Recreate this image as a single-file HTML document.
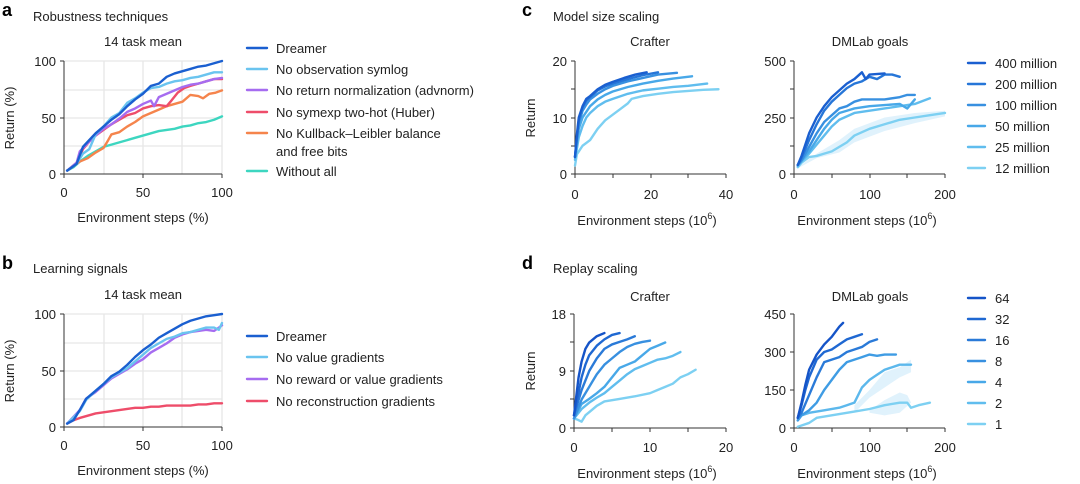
<!DOCTYPE html>
<html><head><meta charset="utf-8"><style>
html,body{margin:0;padding:0;background:#fff}
svg{display:block;font-family:"Liberation Sans",Arial,sans-serif}
text{fill:#222;font-size:13px}
.l{fill:none;stroke-width:2.4;stroke-linejoin:round;stroke-linecap:round}
.ax{stroke:#333;stroke-width:1;fill:none}
.g{stroke:#e6e6e6;stroke-width:1.3}
.b{font-weight:bold;font-size:18px;fill:#000}
</style></head><body>
<svg width="1080" height="484" viewBox="0 0 1080 484" xmlns="http://www.w3.org/2000/svg">
<!-- Panel a -->
<text x="2" y="16" class="b">a</text>
<text x="33" y="21">Robustness techniques</text>
<text x="143" y="46" text-anchor="middle">14 task mean</text>
<g class="g"><line x1="104" y1="61" x2="104" y2="174"/><line x1="143" y1="61" x2="143" y2="174"/><line x1="182" y1="61" x2="182" y2="174"/><line x1="222" y1="61" x2="222" y2="174"/>
<line x1="64" y1="61" x2="222" y2="61"/><line x1="64" y1="90" x2="222" y2="90"/><line x1="64" y1="118" x2="222" y2="118"/><line x1="64" y1="146" x2="222" y2="146"/></g>
<path class="ax" d="M64,61V174H222M60,61H64M60,118H64M60,174H64M64,174v4M143,174v4M222,174v4"/>
<text x="56" y="66" text-anchor="end">100</text><text x="56" y="123" text-anchor="end">50</text><text x="56" y="179" text-anchor="end">0</text>
<text x="64" y="197" text-anchor="middle">0</text><text x="143" y="197" text-anchor="middle">50</text><text x="222" y="197" text-anchor="middle">100</text>
<text x="143" y="222" text-anchor="middle">Environment steps (%)</text>
<text transform="translate(14,118) rotate(-90)" text-anchor="middle">Return (%)</text>
<g transform="translate(64,174) scale(1.58,-1.13)">
<polyline class="l" vector-effect="non-scaling-stroke" stroke="#3dd6c0" points="2,3 6,6 10,11 15,16 20,20 25,24 30,26 35,28 40,30 45,32 50,34 55,36 60,38 65,39 70,40 75,42 80,43 85,45 90,46 95,48 100,51"/>
<polyline class="l" vector-effect="non-scaling-stroke" stroke="#f5844c" points="2,3 6,7 10,11 15,14 20,19 25,23 28,30 30,35 35,37 40,42 45,46 50,51 55,54 60,57 65,60 70,62 75,64 80,70 85,69 88,67 92,71 96,72 100,74"/>
<polyline class="l" vector-effect="non-scaling-stroke" stroke="#ee4d6a" points="2,3 8,10 12,22 18,32 24,38 30,44 35,48 40,52 45,54 50,58 55,60 60,61 65,60 68,65 72,72 76,76 80,78 85,80 90,82 95,84 100,84"/>
<polyline class="l" vector-effect="non-scaling-stroke" stroke="#a66cf0" points="2,3 8,10 10,20 14,26 20,34 25,40 30,44 35,49 40,55 45,58 50,62 55,65 57,60 60,68 65,71 70,74 75,77 80,79 85,80 90,82 95,84 100,85"/>
<polyline class="l" vector-effect="non-scaling-stroke" stroke="#6ac4ef" points="2,3 8,9 12,18 16,22 20,35 25,42 30,50 35,54 40,63 45,67 50,72 55,76 60,77 65,80 70,82 75,83 80,85 85,86 90,88 95,90 100,90"/>
<polyline class="l" vector-effect="non-scaling-stroke" stroke="#1a5fd0" points="2,3 5,6 8,9 12,24 16,30 20,36 25,42 30,48 35,53 40,60 45,66 50,71 55,78 60,80 65,86 70,89 75,91 80,93 85,95 90,96 95,98 100,100"/>
</g>
<g class="l" stroke-width="3">
<line x1="247" y1="48" x2="267" y2="48" stroke="#1a5fd0"/><line x1="247" y1="69" x2="267" y2="69" stroke="#6ac4ef"/><line x1="247" y1="90" x2="267" y2="90" stroke="#a66cf0"/><line x1="247" y1="112" x2="267" y2="112" stroke="#ee4d6a"/><line x1="247" y1="133" x2="267" y2="133" stroke="#f5844c"/><line x1="247" y1="171" x2="267" y2="171" stroke="#3dd6c0"/></g>
<text x="276" y="53">Dreamer</text><text x="276" y="74">No observation symlog</text><text x="276" y="95">No return normalization (advnorm)</text><text x="276" y="117">No symexp two-hot (Huber)</text><text x="276" y="138">No Kullback–Leibler balance</text><text x="276" y="156">and free bits</text><text x="276" y="176">Without all</text>

<!-- Panel b -->
<text x="2" y="269" class="b">b</text>
<text x="33" y="273">Learning signals</text>
<text x="143" y="299" text-anchor="middle">14 task mean</text>
<g class="g"><line x1="104" y1="314" x2="104" y2="427"/><line x1="143" y1="314" x2="143" y2="427"/><line x1="182" y1="314" x2="182" y2="427"/><line x1="222" y1="314" x2="222" y2="427"/>
<line x1="64" y1="314" x2="222" y2="314"/><line x1="64" y1="343" x2="222" y2="343"/><line x1="64" y1="371" x2="222" y2="371"/><line x1="64" y1="399" x2="222" y2="399"/></g>
<path class="ax" d="M64,314V427H222M60,314H64M60,371H64M60,427H64M64,427v4M143,427v4M222,427v4"/>
<text x="56" y="319" text-anchor="end">100</text><text x="56" y="376" text-anchor="end">50</text><text x="56" y="432" text-anchor="end">0</text>
<text x="64" y="450" text-anchor="middle">0</text><text x="143" y="450" text-anchor="middle">50</text><text x="222" y="450" text-anchor="middle">100</text>
<text x="143" y="475" text-anchor="middle">Environment steps (%)</text>
<text transform="translate(14,371) rotate(-90)" text-anchor="middle">Return (%)</text>
<g transform="translate(64,427) scale(1.58,-1.13)">
<polyline class="l" vector-effect="non-scaling-stroke" stroke="#ee4d6a" points="2,3 6,6 10,8 15,10 20,12 25,13 30,14 35,15 40,16 45,17 50,17 55,18 60,18 65,19 70,19 75,19 80,19 85,20 90,20 95,21 100,21"/>
<polyline class="l" vector-effect="non-scaling-stroke" stroke="#a66cf0" points="2,3 10,15 14,25 20,31 25,37 30,43 35,47 40,51 45,56 50,60 55,66 60,70 65,74 70,79 75,82 80,84 85,85 90,86 95,85 98,88 100,90"/>
<polyline class="l" vector-effect="non-scaling-stroke" stroke="#6ac4ef" points="2,3 10,14 14,24 20,32 25,38 30,44 35,48 40,52 45,58 50,64 55,70 60,74 65,78 70,80 75,83 80,84 85,86 90,88 95,88 98,86 100,92"/>
<polyline class="l" vector-effect="non-scaling-stroke" stroke="#1a5fd0" points="2,3 6,6 10,15 14,25 20,32 25,38 30,45 35,49 40,55 45,62 50,68 55,73 60,79 65,83 70,87 75,91 80,94 85,96 90,98 95,99 100,100"/>
</g>
<g class="l" stroke-width="3">
<line x1="247" y1="336" x2="267" y2="336" stroke="#1a5fd0"/><line x1="247" y1="357" x2="267" y2="357" stroke="#6ac4ef"/><line x1="247" y1="379" x2="267" y2="379" stroke="#a66cf0"/><line x1="247" y1="401" x2="267" y2="401" stroke="#ee4d6a"/></g>
<text x="276" y="341">Dreamer</text><text x="276" y="362">No value gradients</text><text x="276" y="384">No reward or value gradients</text><text x="276" y="406">No reconstruction gradients</text>

<!-- Panel c -->
<text x="522" y="16" class="b">c</text>
<text x="553" y="21">Model size scaling</text>
<text x="650" y="46" text-anchor="middle">Crafter</text>
<text x="870" y="46" text-anchor="middle">DMLab goals</text>
<path class="ax" d="M575,61V174H726M571,61H575M571,89H575M571,118H575M571,146H575M571,174H575M575,174v4M613,174v4M651,174v4M688,174v4M726,174v4"/>
<text x="567" y="66" text-anchor="end">20</text><text x="567" y="123" text-anchor="end">10</text><text x="567" y="179" text-anchor="end">0</text>
<text x="575" y="199" text-anchor="middle">0</text><text x="651" y="199" text-anchor="middle">20</text><text x="726" y="199" text-anchor="middle">40</text>
<text x="647" y="225" text-anchor="middle">Environment steps (10<tspan dy="-6" font-size="9">6</tspan><tspan dy="6">)</tspan></text>
<text transform="translate(535,118) rotate(-90)" text-anchor="middle">Return</text>
<g transform="translate(575,174) scale(3.775,-5.65)">
<polyline class="l" vector-effect="non-scaling-stroke" stroke="#7dd0f2" points="0,1.5 0.5,3.5 1,4 2,5 4,6 6,8 8,9.5 10,10.5 12,11.5 14,12.5 15,13.3 18,13.8 22,14.2 26,14.5 30,14.7 34,14.9 38,15"/>
<polyline class="l" vector-effect="non-scaling-stroke" stroke="#60bdee" points="0,2.5 0.5,4.5 1,6.5 2,8.5 3,10 4,10.8 6,12 8,12.8 10,13.3 14,14.2 18,14.8 22,15.1 26,15.4 30,15.6 35,16"/>
<polyline class="l" vector-effect="non-scaling-stroke" stroke="#48a8e8" points="0,3 0.5,5.5 1,8 2,10 3,11 4,12 6,13.2 8,14 10,14.6 14,15.4 18,16 22,16.5 26,16.9 31,17.3"/>
<polyline class="l" vector-effect="non-scaling-stroke" stroke="#3890e0" points="0,3 0.5,6 1,9 2,11.2 3,12.3 4,13.2 6,14.2 8,15 10,15.6 14,16.4 18,17 22,17.6 27,17.9"/>
<polyline class="l" vector-effect="non-scaling-stroke" stroke="#2676d8" points="0,3 0.5,6.5 1,9.5 2,11.8 3,13 4,13.6 6,14.8 8,15.5 10,16 14,16.8 18,17.5 22,18"/>
<polyline class="l" vector-effect="non-scaling-stroke" stroke="#1a5fd0" points="0,3 0.5,7 1,10 2,12 3,13.3 4,13.8 6,15 8,15.8 10,16.3 13,17 16,17.6 19,18"/>
</g>
<path class="ax" d="M794,61V174H945M790,61H794M790,89H794M790,118H794M790,146H794M790,174H794M794,174v4M832,174v4M870,174v4M907,174v4M945,174v4"/>
<text x="786" y="66" text-anchor="end">500</text><text x="786" y="123" text-anchor="end">250</text><text x="786" y="179" text-anchor="end">0</text>
<text x="794" y="199" text-anchor="middle">0</text><text x="870" y="199" text-anchor="middle">100</text><text x="945" y="199" text-anchor="middle">200</text>
<text x="867" y="225" text-anchor="middle">Environment steps (10<tspan dy="-6" font-size="9">6</tspan><tspan dy="6">)</tspan></text>
<g transform="translate(794,174) scale(0.755,-0.226)">
<polygon fill="#d8effb" opacity="0.8" points="5,30 30,90 60,150 80,200 120,250 160,270 200,280 200,255 160,225 120,190 80,140 60,95 30,70 5,25"/>
<polyline class="l" vector-effect="non-scaling-stroke" stroke="#7dd0f2" points="5,30 10,50 20,75 30,80 40,90 50,100 60,120 70,140 80,170 100,200 120,220 140,240 160,250 180,260 200,270"/>
<polyline class="l" vector-effect="non-scaling-stroke" stroke="#60bdee" points="5,35 10,55 20,90 30,130 40,170 50,210 60,240 80,270 100,280 120,290 140,300 160,310 180,335"/>
<polyline class="l" vector-effect="non-scaling-stroke" stroke="#48a8e8" points="5,40 10,60 20,100 30,150 40,200 50,240 60,270 70,280 80,290 100,300 120,305 140,310 150,290 160,330"/>
<polyline class="l" vector-effect="non-scaling-stroke" stroke="#3890e0" points="5,40 10,60 20,120 30,180 40,230 50,260 60,290 70,300 80,320 90,330 100,330 120,330 140,340 150,350 160,350"/>
<polyline class="l" vector-effect="non-scaling-stroke" stroke="#2676d8" points="5,40 10,70 20,150 30,220 40,280 50,320 60,350 70,380 80,400 90,410 100,430 110,420 120,440 130,440 140,430"/>
<polyline class="l" vector-effect="non-scaling-stroke" stroke="#1a5fd0" points="5,40 10,80 20,180 30,250 40,300 50,340 60,370 70,400 80,420 90,450 95,420 100,440 120,445"/>
</g>
<g class="l" stroke-width="3">
<line x1="968" y1="63" x2="985" y2="63" stroke="#1a5fd0"/><line x1="968" y1="84" x2="985" y2="84" stroke="#2676d8"/><line x1="968" y1="105" x2="985" y2="105" stroke="#3890e0"/><line x1="968" y1="126" x2="985" y2="126" stroke="#48a8e8"/><line x1="968" y1="147" x2="985" y2="147" stroke="#60bdee"/><line x1="968" y1="168" x2="985" y2="168" stroke="#7dd0f2"/></g>
<text x="995" y="68">400 million</text><text x="995" y="89">200 million</text><text x="995" y="110">100 million</text><text x="995" y="131">50 million</text><text x="995" y="152">25 million</text><text x="995" y="173">12 million</text>

<!-- Panel d -->
<text x="522" y="269" class="b">d</text>
<text x="553" y="273">Replay scaling</text>
<text x="650" y="301" text-anchor="middle">Crafter</text>
<text x="870" y="301" text-anchor="middle">DMLab goals</text>
<path class="ax" d="M574,314V428H726M570,314H574M570,342H574M570,371H574M570,399H574M570,428H574M574,428v4M612,428v4M650,428v4M688,428v4M726,428v4"/>
<text x="566" y="319" text-anchor="end">18</text><text x="566" y="376" text-anchor="end">9</text><text x="566" y="433" text-anchor="end">0</text>
<text x="574" y="452" text-anchor="middle">0</text><text x="650" y="452" text-anchor="middle">10</text><text x="726" y="452" text-anchor="middle">20</text>
<text x="647" y="478" text-anchor="middle">Environment steps (10<tspan dy="-6" font-size="9">6</tspan><tspan dy="6">)</tspan></text>
<text transform="translate(535,371) rotate(-90)" text-anchor="middle">Return</text>
<g transform="translate(574,428) scale(7.6,-6.33)">
<polyline class="l" vector-effect="non-scaling-stroke" stroke="#7dd0f2" points="0,1.5 0.5,1.3 1,1 1.5,2 2,2.5 3,3.5 4,4.2 6,4.6 8,5 10,5.5 11,6 12,6.5 13,7 14,8 15,8.5 16,9.2"/>
<polyline class="l" vector-effect="non-scaling-stroke" stroke="#60bdee" points="0,1.5 1,3 2,4 3,4.8 4,5.5 5,6.5 6,7.5 7,8.5 8,9.3 9,9.8 10,10.3 11,10.8 12,11 13,11.4 14,12"/>
<polyline class="l" vector-effect="non-scaling-stroke" stroke="#48a8e8" points="0,1.5 1,3.8 2,4.6 3,5.5 4,6.5 5,8 6,9.5 7,10 8,10.5 9,11.5 10,12.5 11,13 12,13.5"/>
<polyline class="l" vector-effect="non-scaling-stroke" stroke="#3890e0" points="0,1.5 1,4.5 2,6.5 3,8.5 4,10 5,11 6,12 7,12.8 8,13.3 9,13.6 10,13.8"/>
<polyline class="l" vector-effect="non-scaling-stroke" stroke="#2a7ad8" points="0,2 0.5,4 1,6 2,9 3,11 4,12.5 5,13.2 6,13.6 7,14 8,14.5"/>
<polyline class="l" vector-effect="non-scaling-stroke" stroke="#1f68d2" points="0,2 0.5,5 1,8 1.5,10 2,11.5 3,13 4,14 5,14.7 6,15"/>
<polyline class="l" vector-effect="non-scaling-stroke" stroke="#1554c8" points="0,2 0.3,5 0.6,8 1,10.5 1.5,12.5 2,13.5 3,14.5 4,15"/>
</g>
<path class="ax" d="M794,314V428H945M790,314H794M790,352H794M790,390H794M790,428H794M794,428v4M832,428v4M870,428v4M907,428v4M945,428v4"/>
<text x="786" y="319" text-anchor="end">450</text><text x="786" y="357" text-anchor="end">300</text><text x="786" y="395" text-anchor="end">150</text><text x="786" y="433" text-anchor="end">0</text>
<text x="794" y="452" text-anchor="middle">0</text><text x="870" y="452" text-anchor="middle">100</text><text x="945" y="452" text-anchor="middle">200</text>
<text x="867" y="478" text-anchor="middle">Environment steps (10<tspan dy="-6" font-size="9">6</tspan><tspan dy="6">)</tspan></text>
<g transform="translate(794,428) scale(0.755,-0.2533)">
<polygon fill="#d8effb" opacity="0.8" points="80,90 100,150 120,220 140,240 155,270 155,220 140,200 120,160 100,120 80,60"/>
<polygon fill="#d8effb" opacity="0.8" points="100,70 120,110 140,140 150,130 155,100 140,60 120,50 100,60"/>
<polyline class="l" vector-effect="non-scaling-stroke" stroke="#7dd0f2" points="5,5 10,10 20,20 30,40 40,45 60,55 80,65 100,75 120,90 140,100 150,100 155,80 165,90 180,100"/>
<polyline class="l" vector-effect="non-scaling-stroke" stroke="#5cb8ec" points="5,30 10,50 20,60 40,70 60,80 70,90 80,100 90,160 100,190 110,210 120,230 130,240 140,250 155,250"/>
<polyline class="l" vector-effect="non-scaling-stroke" stroke="#3f9ce4" points="5,30 10,50 20,70 30,100 40,150 50,190 60,230 70,260 80,270 90,280 100,290 110,285 120,290 135,290"/>
<polyline class="l" vector-effect="non-scaling-stroke" stroke="#2a7ad8" points="5,40 10,60 20,130 30,200 40,260 50,270 60,280 70,300 80,310 90,320 100,340 110,350"/>
<polyline class="l" vector-effect="non-scaling-stroke" stroke="#1f68d2" points="5,40 10,90 15,150 20,200 30,270 40,300 50,310 60,330 70,350 80,360 90,370"/>
<polyline class="l" vector-effect="non-scaling-stroke" stroke="#1554c8" points="5,40 10,100 15,170 20,230 30,290 40,330 50,360 60,400 65,415"/>
</g>
<g class="l" stroke-width="3">
<line x1="968" y1="298" x2="985" y2="298" stroke="#1554c8"/><line x1="968" y1="319" x2="985" y2="319" stroke="#1f68d2"/><line x1="968" y1="340" x2="985" y2="340" stroke="#2a7ad8"/><line x1="968" y1="361" x2="985" y2="361" stroke="#3890e0"/><line x1="968" y1="382" x2="985" y2="382" stroke="#48a8e8"/><line x1="968" y1="403" x2="985" y2="403" stroke="#60bdee"/><line x1="968" y1="424" x2="985" y2="424" stroke="#7dd0f2"/></g>
<text x="995" y="303">64</text><text x="995" y="324">32</text><text x="995" y="345">16</text><text x="995" y="366">8</text><text x="995" y="387">4</text><text x="995" y="408">2</text><text x="995" y="429">1</text>
</svg>
</body></html>
